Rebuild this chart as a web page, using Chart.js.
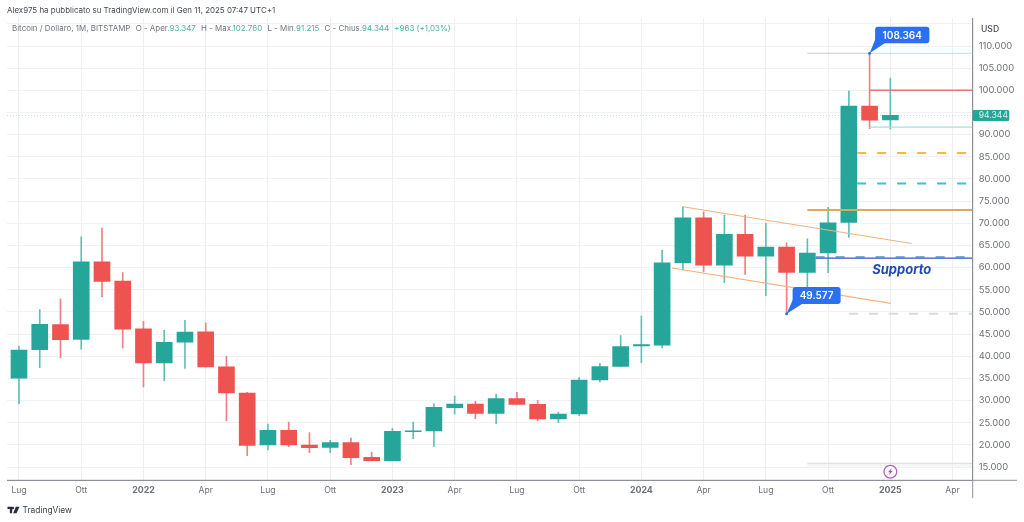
<!DOCTYPE html>
<html>
<head>
<meta charset="utf-8">
<script src="https://cdn.jsdelivr.net/npm/chart.js@4"></script>
<style>
html,body{margin:0;padding:0;background:#fff;width:1024px;height:522px;overflow:hidden;font-family:Inter,Roboto,sans-serif}
#wrap{position:relative;width:1024px;height:522px}
canvas{position:absolute;left:0;top:0}
.t{position:absolute;white-space:nowrap}
#by{left:7px;top:4px;font-size:7.95px;color:#444a50;line-height:12px}
#leg{left:12px;top:22px;font-size:7.95px;color:#6f747c;line-height:12px}
#leg b{font-weight:400;color:#46b5a3}
#leg i{font-style:normal;margin-left:3px}
#usd{left:981px;top:23px;font-size:8.6px;font-weight:500;color:#444a50;line-height:12px}
#tv{left:22.5px;top:503px;font-size:8.4px;color:#3c4046;line-height:14px}
#logo{position:absolute;left:6.5px;top:506px}
</style>
</head>
<body>
<div id="wrap">
<canvas id="c" width="1024" height="522"></canvas>
<div class="t" id="by">Alex975 ha pubblicato su TradingView.com il Gen 11, 2025 07:47 UTC+1</div>
<div class="t" id="leg">Bitcoin / Dollaro, 1M, BITSTAMP<i>&nbsp;O - Aper.</i><b>93.347</b><i>&nbsp;H - Max.</i><b>102.760</b><i>&nbsp;L - Min.</i><b>91.215</b><i>&nbsp;C - Chius.</i><b>94.344</b><b style="margin-left:3px">&nbsp;+963 (+1,03%)</b></div>
<div class="t" id="usd">USD</div>
<svg id="logo" width="13" height="8" viewBox="0 0 36 24"><path fill="#2a2e39" d="M0 2h14v20H7V9H0zM16 2a4 4 0 1 1 0 8 4 4 0 0 1 0-8zM25 2h11l-9 20H17z"/></svg>
<div class="t" id="tv">TradingView</div>
</div>
<script>
// Months counted from Jul 2021 (index 0) to Jan 2025 (index 42)
const months = [0,1,2,3,4,5,6,7,8,9,10,11,12,13,14,15,16,17,18,19,20,21,22,23,24,25,26,27,28,29,30,31,32,33,34,35,36,37,38,39,40,41,42];
const opens  = [35040,41450,47150,43800,61300,56950,46200,38460,43160,45500,37600,31700,19960,23270,19960,19400,20490,17180,16430,23000,23120,28390,29210,27100,30450,29170,25830,26960,34650,37700,42300,42520,61100,71240,60570,67500,62600,64620,58900,63300,70200,96430,93347];
const highs  = [42300,50500,52900,66950,68900,58900,47900,45900,48090,47560,40040,31850,24700,25150,22750,21020,21540,18380,23720,25150,29290,31020,29810,31470,31850,30040,27330,35230,38390,44630,49070,63900,73720,72600,71840,71840,69960,65600,66500,73570,99890,108364,102760];
const lows   = [29290,37410,39670,41600,53400,41900,33050,34400,37260,37560,25400,17560,18840,19590,18230,18230,15530,16430,16430,21390,19660,26960,25900,24780,29140,25380,25000,26580,34180,37640,38540,41900,59440,59070,56590,58470,53650,49577,53000,58840,66800,91320,91215];
const closes = [41400,47180,43720,61320,56900,46130,38460,43120,45460,37560,31700,19890,23270,19960,19360,20490,17100,16430,23050,23180,28460,29210,27100,30420,29140,25830,26960,34630,37640,42150,42600,61100,71240,60570,67480,62600,64620,58900,63300,70110,96430,93280,94344];
const xTickValues = [0,3,6,9,12,15,18,21,24,27,30,33,36,39,42,45];
const xTickLabels = ['Lug','Ott','2022','Apr','Lug','Ott','2023','Apr','Lug','Ott','2024','Apr','Lug','Ott','2025','Apr'];
const yTickValues = [15000,20000,25000,30000,35000,40000,45000,50000,55000,60000,65000,70000,75000,80000,85000,90000,95000,100000,105000,110000,115000];
const yHiddenLabels = [95000,115000];
const xMin = -0.578, xMax = 45.97, yMin = 12000, yMax = 116320;
const lastPrice = 94344, lastPriceLabel = '94.344';
const highMark = 108364, highLabel = '108.364', highIdx = 41;
const lowMark = 49577, lowLabel = '49.577', lowIdx = 37;
const supportLabel = 'Supporto', supportValue = 59400, supportIdx = 42.55;
const upperChannelX = [32,43.03], upperChannelY = [73720,65450];
const lowerChannelX = [31.48,42.03], lowerChannelY = [59900,51920];
const levels = [
  {v:108364,x0:38,   x1:41.02,color:'#cfc8cf',w:1.2,dash:[]},
  {v:108364,x0:41,   x1:xMax, color:'#b4e4e6',w:1.2,dash:[]},
  {v:100000,x0:41,   x1:xMax, color:'#ee7076',w:1.5,dash:[]},
  {v:91700, x0:41,   x1:xMax, color:'#a6e0da',w:1.2,dash:[]},
  {v:85830, x0:40.4, x1:xMax, color:'#f6b93b',w:2,dash:[9,11]},
  {v:78990, x0:40.4, x1:xMax, color:'#38c3d3',w:2,dash:[9,11]},
  {v:72970, x0:38,   x1:xMax, color:'#e5a556',w:2,  dash:[]},
  {v:62350, x0:38.4, x1:xMax, color:'#5a93c4',w:1.6,dash:[9,11]},
  {v:62130, x0:38.4, x1:xMax, color:'#2b5bc7',w:1.4,dash:[]},
  {v:49577, x0:40,   x1:xMax, color:'#d8dadd',w:2,dash:[9,11]},
  {v:15800, x0:38,   x1:xMax, color:'#dfe0e3',w:1.4,dash:[]},
  {v:15250, x0:38,   x1:xMax, color:'#f0f1f2',w:1.2,dash:[]}
];

const UP='#26a69a', DOWN='#ef5350', UPW='#62bfb5', DOWNW='#f27f83';
const isUp = i => closes[i] >= opens[i];
const lineDs = (pts,color,w,dash,order) => ({type:'line',data:pts,borderColor:color,borderWidth:w,borderDash:dash,pointRadius:0,pointHoverRadius:0,fill:false,tension:0,order});

const datasets = [
  lineDs([{x:xMin,y:lastPrice},{x:xMax,y:lastPrice}],'#b5dfda',1,[1,2],20),
  {type:'bar',label:'wick',data:months.map(i=>({x:i,y:[lows[i],highs[i]]})),backgroundColor:months.map(i=>isUp(i)?UPW:DOWNW),barThickness:1,grouped:false,order:12},
  {type:'bar',label:'body',data:months.map(i=>({x:i,y:[opens[i],closes[i]]})),backgroundColor:months.map(i=>isUp(i)?UP:DOWN),barThickness:16,grouped:false,order:10},
  lineDs(upperChannelX.map((x,i)=>({x,y:upperChannelY[i]})),'#f2b27c',1.1,[],5),
  lineDs(lowerChannelX.map((x,i)=>({x,y:lowerChannelY[i]})),'#f2b27c',1.1,[],5)
];
levels.forEach(l=>datasets.push(lineDs([{x:l.x0,y:l.v},{x:l.x1,y:l.v}],l.color,l.w,l.dash,4)));

function callout(ctx,text,px,py,bx,by,bw,bh){
  ctx.save();
  ctx.fillStyle='#2b6ff2';
  ctx.beginPath();ctx.roundRect(bx,by,bw,bh,3);ctx.fill();
  ctx.beginPath();ctx.moveTo(px,py);
  ctx.lineTo(bx+1,by+bh-6);
  ctx.lineTo(bx+11,by+bh-1);
  ctx.closePath();ctx.fill();
  ctx.beginPath();ctx.arc(px,py,1.5,0,Math.PI*2);ctx.fill();
  ctx.fillStyle='#fff';ctx.font='600 10px Inter, Roboto, sans-serif';
  ctx.textAlign='center';ctx.textBaseline='middle';
  ctx.fillText(text,bx+bw/2,by+bh/2+0.5);
  ctx.restore();
}
const overlay = {
  id:'overlay',
  afterDraw(chart){
    const ctx=chart.ctx, xs=chart.scales.x, ys=chart.scales.y, a=chart.chartArea;
    // axis extensions
    ctx.save();ctx.strokeStyle='#8d9096';ctx.lineWidth=1;
    ctx.beginPath();ctx.moveTo(a.right,18);ctx.lineTo(a.right,498);ctx.stroke();
    ctx.beginPath();ctx.moveTo(a.left,a.bottom);ctx.lineTo(1017,a.bottom);ctx.stroke();
    ctx.restore();
    // callouts
    const hx=xs.getPixelForValue(highIdx), hy=ys.getPixelForValue(highMark);
    callout(ctx,highLabel,hx,hy,hx+5.5,hy-26.5,54.3,16.6);
    const lx=xs.getPixelForValue(lowIdx), ly=ys.getPixelForValue(lowMark);
    callout(ctx,lowLabel,lx,ly,lx+6,ly-26.7,48,16.8);
    // support label
    ctx.save();ctx.fillStyle='#2249b6';ctx.font='italic 700 13px Inter, Roboto, sans-serif';
    ctx.textAlign='center';ctx.textBaseline='middle';
    ctx.fillText(supportLabel,xs.getPixelForValue(supportIdx),ys.getPixelForValue(supportValue));
    ctx.restore();
    // last price tag
    const py=ys.getPixelForValue(lastPrice);
    ctx.save();ctx.fillStyle=UP;ctx.beginPath();ctx.roundRect(a.right,py-5.5,36.6,11,1.5);ctx.fill();
    ctx.fillStyle='#d6f0ec';ctx.font='8.6px Inter, Roboto, sans-serif';ctx.textAlign='left';ctx.textBaseline='middle';
    ctx.fillText(lastPriceLabel,a.right+6,py+0.5);ctx.restore();
    // lightning badge
    const bx=xs.getPixelForValue(42), by=471.7;
    ctx.save();ctx.strokeStyle='#b45ccb';ctx.lineWidth=1.3;ctx.fillStyle='#fff';
    ctx.beginPath();ctx.arc(bx,by,6.4,0,Math.PI*2);ctx.fill();ctx.stroke();
    ctx.fillStyle='#a94cc2';ctx.beginPath();
    ctx.moveTo(bx+1.6,by-3.6);ctx.lineTo(bx-2.4,by+0.6);ctx.lineTo(bx-0.3,by+0.6);
    ctx.lineTo(bx-1.6,by+3.6);ctx.lineTo(bx+2.4,by-0.6);ctx.lineTo(bx+0.3,by-0.6);ctx.closePath();ctx.fill();
    ctx.restore();
  }
};

new Chart(document.getElementById('c'),{
  type:'bar',
  data:{datasets},
  plugins:[overlay],
  options:{
    responsive:false,animation:false,devicePixelRatio:1,
    layout:{padding:{left:7,top:18,right:0,bottom:0}},
    plugins:{legend:{display:false},tooltip:{enabled:false},title:{display:false}},
    events:[],
    scales:{
      x:{type:'linear',min:xMin,max:xMax,offset:false,
        afterBuildTicks:s=>{s.ticks=xTickValues.map(v=>({value:v}));},
        afterFit:s=>{s.height=41.7;},
        grid:{color:'#eceef1',lineWidth:1,drawTicks:false,offset:false},
        border:{color:'#8d9096',width:1},
        ticks:{autoSkip:false,maxRotation:0,padding:5,color:'#6d7077',
          font:c=>/^\d{4}$/.test(c.tick&&c.tick.label)?{family:'Inter, Roboto, sans-serif',size:8.8,weight:'700'}:{family:'Inter, Roboto, sans-serif',size:8.6},
          callback:v=>{const i=xTickValues.indexOf(v);return i<0?'':xTickLabels[i];}}
      },
      y:{type:'linear',position:'right',min:yMin,max:yMax,
        afterBuildTicks:s=>{s.ticks=yTickValues.map(v=>({value:v}));},
        afterFit:s=>{s.width=51.3;},
        grid:{color:'#eff1f3',lineWidth:1,drawTicks:false},
        border:{color:'#8d9096',width:1},
        ticks:{autoSkip:false,padding:6,color:'#6d7077',font:{family:'Inter, Roboto, sans-serif',size:9.4},
          callback:v=>yHiddenLabels.includes(v)?'':String(v).replace(/\B(?=(\d{3})+$)/g,'.')}
      }
    }
  }
});
</script>
</body>
</html>
